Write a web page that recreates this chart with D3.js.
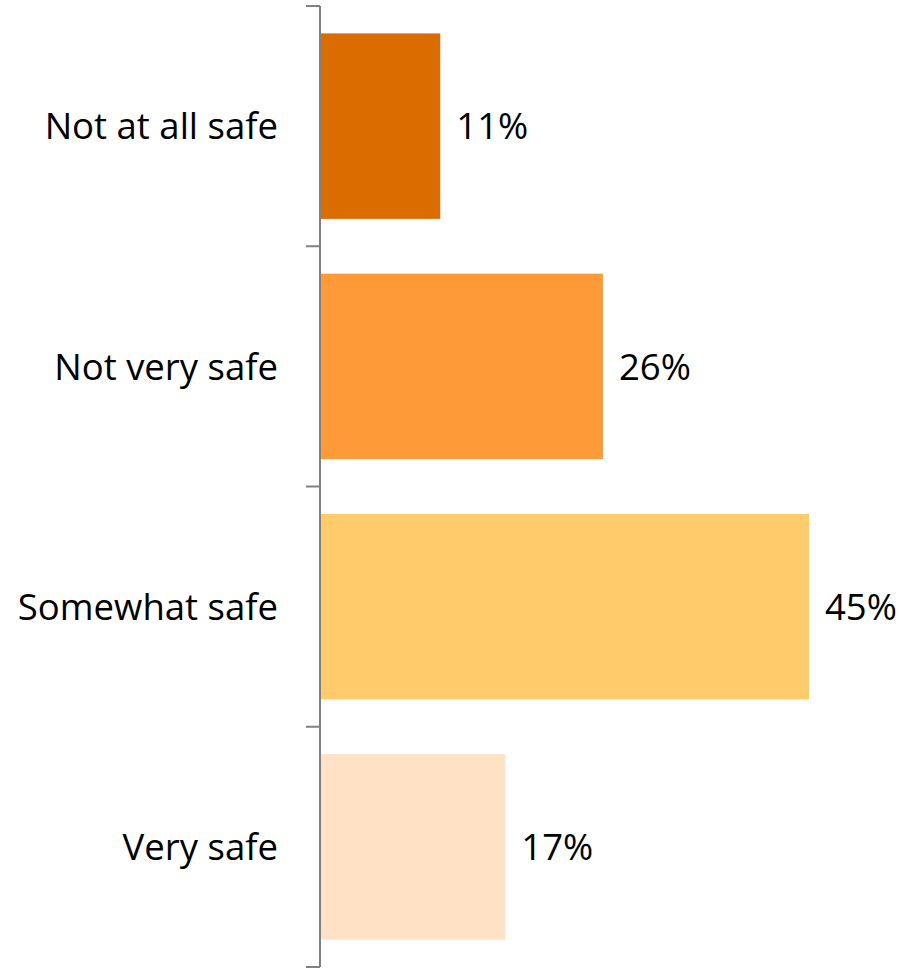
<!DOCTYPE html>
<html><head><meta charset="utf-8">
<script src="https://cdn.jsdelivr.net/npm/d3@7"></script>
<style>body{margin:0;background:#fff}svg{display:block}text{font-family:"Open Sans",Lato,sans-serif;fill:#000}</style>
</head><body>
<script>
const categories = ["Not at all safe","Not very safe","Somewhat safe","Very safe"];
const values = [11,26,45,17];
const colors = ["#DA6C00","#FF9A38","#FFCB6B","#FFE1C6"];

const W=902,H=969;
const svg=d3.select("body").append("svg").attr("width",W).attr("height",H);
const x0=320;
const x=d3.scaleLinear().domain([0,45]).range([x0+1,809]);
const y=d3.scaleBand().domain(categories).range([6,967]).paddingInner(0.228).paddingOuter(0.114);

svg.selectAll("rect.bar").data(values).join("rect")
  .attr("x",x(0)).attr("y",(d,i)=>y(categories[i]))
  .attr("width",d=>x(d)-x(0)).attr("height",y.bandwidth())
  .attr("fill",(d,i)=>colors[i]);

const bounds=[6].concat(categories.map(c=>y(c)+y.bandwidth()+ (y.step()-y.bandwidth())/2));
const g=svg.append("g");
g.append("line").attr("x1",x0).attr("x2",x0).attr("y1",6).attr("y2",967).attr("stroke","#808080").attr("stroke-width",2);
g.selectAll("line.t").data(bounds).join("line").attr("class","t")
  .attr("x1",306).attr("x2",x0).attr("y1",d=>d).attr("y2",d=>d).attr("stroke","#808080").attr("stroke-width",2);

svg.selectAll("text.cat").data(categories).join("text").attr("class","cat")
  .attr("x",278).attr("y",d=>y(d)+y.bandwidth()/2).attr("dy","0.36em")
  .attr("text-anchor","end").attr("font-size",36.5).text(d=>d);

svg.selectAll("text.val").data(values).join("text").attr("class","val")
  .attr("x",d=>x(d)+16).attr("y",(d,i)=>y(categories[i])+y.bandwidth()/2).attr("dy","0.36em")
  .attr("font-size",36.5).text(d=>d+"%");
</script>
</body></html>
